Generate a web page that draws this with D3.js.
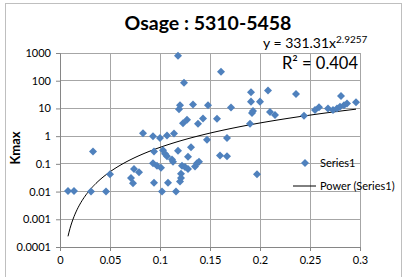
<html lang="en">
<head>
<meta charset="UTF-8">
<title>Osage : 5310-5458</title>
<style>
  body { margin: 0; background: #fff; }
  text { font-family: Lato, "Open Sans", sans-serif; }
</style>
</head>
<body>
<script src="https://d3js.org/d3.v7.min.js"></script>
<script>
// values
const depth = [0.008, 0.014, 0.031, 0.046, 0.033, 0.050, 0.074, 0.079, 0.071, 0.073,
  0.083, 0.093, 0.100, 0.107, 0.114, 0.094, 0.103, 0.105, 0.107, 0.112,
  0.113, 0.118, 0.131, 0.128, 0.093, 0.097, 0.101, 0.122, 0.125, 0.128,
  0.135, 0.137, 0.139, 0.121, 0.121, 0.120, 0.094, 0.108, 0.102, 0.116,
  0.147, 0.167, 0.160, 0.167, 0.197, 0.118, 0.161, 0.124, 0.120, 0.119,
  0.133, 0.148, 0.171, 0.191, 0.191, 0.208, 0.200, 0.236, 0.123, 0.127,
  0.138, 0.143, 0.157, 0.192, 0.193, 0.190, 0.210, 0.215, 0.244, 0.255,
  0.259, 0.268, 0.273, 0.277, 0.280, 0.281, 0.284, 0.287, 0.296]
const kmax = [0.0105, 0.0105, 0.010, 0.010, 0.28, 0.042, 0.065, 0.05, 0.031, 0.020,
  1.28, 1.0, 0.85, 1.05, 1.25, 0.28, 0.31, 0.23, 0.19, 0.145,
  0.12, 0.30, 0.40, 0.18, 0.105, 0.085, 0.072, 0.085, 0.077, 0.065,
  0.08, 0.105, 0.12, 0.044, 0.031, 0.023, 0.021, 0.021, 0.010, 0.010,
  0.74, 0.85, 0.20, 0.19, 0.042, 790, 210, 85, 13, 9.4,
  14, 13, 10.7, 38, 17.6, 44, 17.6, 33, 2.9, 3.9,
  2.8, 4.3, 4.2, 6.8, 8.0, 2.8, 7.5, 5.8, 5.4, 8.8,
  11, 10, 8.8, 10, 11.6, 28, 13, 15, 16.7]
const xTicks = [0, 0.05, 0.1, 0.15, 0.2, 0.25, 0.3]
const yTicks = [0.0001, 0.001, 0.01, 0.1, 1, 10, 100, 1000]
const coefA = 331.31
const coefB = 2.9257

const m = { left: 60, right: 360, top: 53, bottom: 247 }

const svg = d3.select('body').append('svg')
    .attr('width', 410)
    .attr('height', 277)

// chart border
svg.append('rect')
    .attr('x', 5.5).attr('y', 3.5)
    .attr('width', 396).attr('height', 290)
    .attr('fill', 'none')
    .attr('stroke', '#bfbfbf')

const x = d3.scaleLinear().domain([0, 0.3]).range([m.left, m.right])
const y = d3.scaleLog().domain([0.0001, 1000]).range([m.bottom, m.top])

const grid = svg.append('g').attr('stroke', '#a6a6a6').attr('shape-rendering', 'crispEdges')
grid.selectAll('.gx').data(xTicks).enter().append('line')
    .attr('x1', d => x(d)).attr('x2', d => x(d))
    .attr('y1', m.top).attr('y2', m.bottom)
grid.selectAll('.gy').data(yTicks).enter().append('line')
    .attr('x1', m.left).attr('x2', m.right)
    .attr('y1', d => y(d)).attr('y2', d => y(d))

const xAxis = svg.append('g')
    .attr('transform', `translate(0,${m.bottom})`)
    .call(d3.axisBottom(x).tickValues(xTicks).tickFormat(d => String(d)).tickSize(4).tickPadding(5))
const yAxis = svg.append('g')
    .attr('transform', `translate(${m.left},0)`)
    .call(d3.axisLeft(y).tickValues(yTicks).tickFormat(d => String(d)).tickSize(4).tickPadding(5))

for (const ax of [xAxis, yAxis]) {
    ax.select('.domain').attr('stroke', '#868686')
    ax.selectAll('.tick line').attr('stroke', '#868686')
    ax.selectAll('text').attr('font-size', 11).attr('fill', '#000')
        .style('font-family', 'Lato, sans-serif')
}

// trendline
const xs = d3.range(d3.min(depth), d3.max(depth), 0.001).concat([d3.max(depth)])
const line = d3.line()
    .x(d => x(d))
    .y(d => y(coefA * Math.pow(d, coefB)))
svg.append('path')
    .datum(xs)
    .attr('d', line)
    .attr('fill', 'none')
    .attr('stroke', '#000')
    .attr('stroke-width', 1)

// points
const diamond = d3.symbol(d3.symbolSquare, 32)
svg.selectAll('.pt')
    .data(depth.map((d, i) => [d, kmax[i]]))
    .enter()
    .append('path')
    .attr('d', diamond)
    .attr('transform', d => `translate(${x(d[0])},${y(d[1])}) rotate(45)`)
    .attr('fill', '#4f81bd')

// title
svg.append('text')
    .attr('x', 208).attr('y', 30)
    .attr('text-anchor', 'middle')
    .attr('font-size', 19.5).attr('font-weight', 'bold')
    .text('Osage : 5310-5458')

// equation
const eq = svg.append('text')
    .attr('x', 263).attr('y', 48)
    .attr('font-size', 14)
eq.append('tspan').text('y = 331.31x')
eq.append('tspan').attr('dy', -5).attr('font-size', 10).text('2.9257')

svg.append('text')
    .attr('x', 358).attr('y', 69)
    .attr('text-anchor', 'end')
    .attr('font-size', 16.5)
    .text('R² = 0.404')

// y title
svg.append('text')
    .attr('transform', 'translate(20,148) rotate(-90)')
    .attr('text-anchor', 'middle')
    .attr('font-size', 13).attr('font-weight', 'bold')
    .text('Kmax')

// legend
const lg = svg.append('g')
lg.append('path').attr('d', diamond)
    .attr('transform', 'translate(305,163) rotate(45)')
    .attr('fill', '#4f81bd')
lg.append('text').attr('x', 320).attr('y', 167).attr('font-size', 11).text('Series1')
lg.append('line').attr('x1', 293).attr('x2', 316).attr('y1', 186).attr('y2', 186)
    .attr('stroke', '#000').attr('stroke-width', 1)
lg.append('text').attr('x', 320).attr('y', 190).attr('font-size', 11).text('Power (Series1)')
</script>
</body>
</html>
